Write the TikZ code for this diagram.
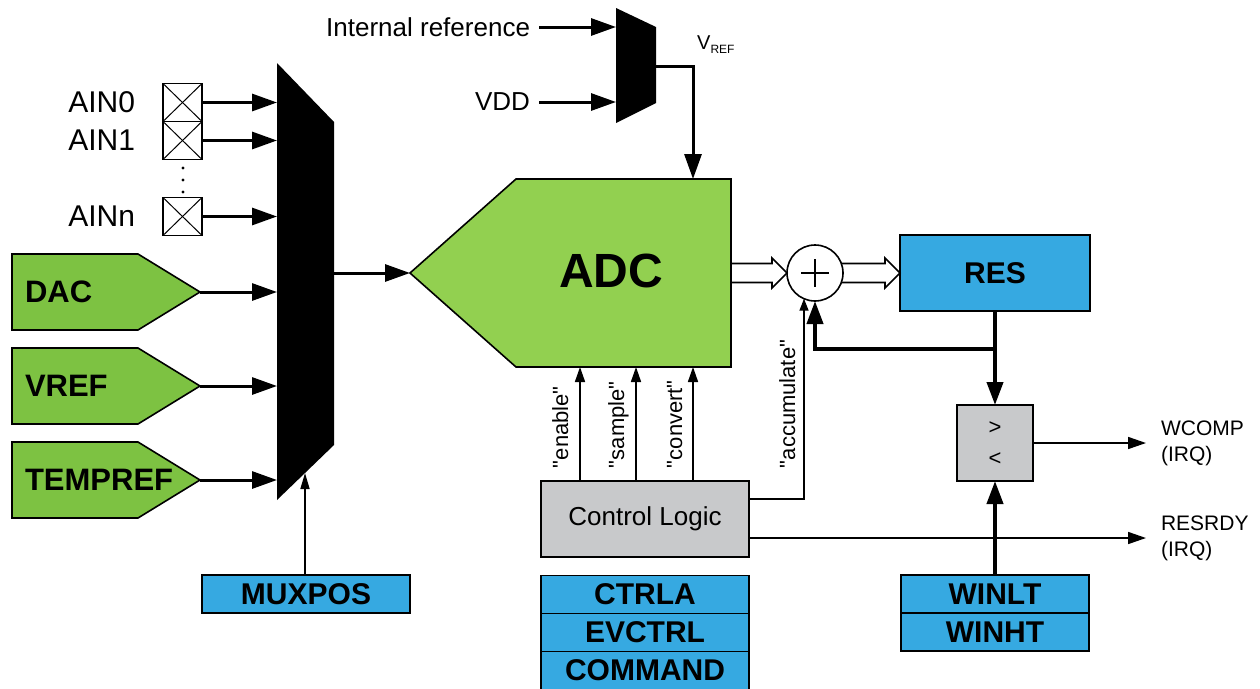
\documentclass[tikz,border=0pt]{standalone}
\usepackage{fontspec}
\setmainfont{Liberation Sans}
\newfontfamily\plainsans{Liberation Sans}
\usetikzlibrary{arrows.meta,calc}
\definecolor{adcgreen}{HTML}{92D050}
\definecolor{srcgreen}{HTML}{7DC242}
\definecolor{regblue}{HTML}{36A9E1}
\definecolor{logicgray}{HTML}{C8C9CB}
\newcommand{\fsz}[1]{\fontsize{#1pt}{#1pt}\selectfont}
\begin{document}
\begin{tikzpicture}[x=1pt,y=-1pt,
  outline/.style={draw=black, line width=1.6pt, line join=miter},
  lbl/.style={inner sep=0pt, outer sep=0pt, font=\fsz{26}},
  ainlbl/.style={inner sep=0pt, outer sep=0pt, font=\fsz{30}},
  sig/.style={inner sep=0pt, outer sep=0pt, font=\plainsans\fsz{22}},
  irq/.style={inner sep=0pt, outer sep=0pt, font=\fsz{21}, align=left},
  srctext/.style={inner sep=0pt, outer sep=0pt, font=\bfseries\fsz{31}},
  reg/.style={draw=black, line width=1.6pt, fill=regblue, inner sep=0pt, outer sep=0pt, font=\bfseries\fsz{30}},
  logic/.style={draw=black, line width=1.6pt, fill=logicgray, inner sep=0pt, outer sep=0pt},
  pinbox/.style={draw=black, line width=1.3pt, fill=white, minimum width=39pt, minimum height=38pt, inner sep=0pt, outer sep=0pt,
    path picture={\draw[line width=1pt] (path picture bounding box.north west) -- (path picture bounding box.south east)
      (path picture bounding box.south west) -- (path picture bounding box.north east);}},
  thinarrow/.style={line width=1.6pt, -{Triangle[length=15pt,width=10pt]}},
  irqarrow/.style={line width=1.6pt, -{Triangle[length=18pt,width=12pt]}},
  accarrow/.style={line width=1.6pt, -{Triangle[length=12pt,width=9pt]}},
  medarrow/.style={line width=3pt, line join=miter, -{Triangle[length=25pt,width=17pt]}},
  thickarrow/.style={line width=4pt, line join=miter, -{Triangle[length=23pt,width=16pt]}},
  hollow/.style={draw=black, line width=1.6pt, line join=miter}
]
\useasboundingbox (0,0) rectangle (1260,688);

% ---------- reference multiplexer ----------
\fill (616,8) -- (656,27) -- (656,103) -- (616,123) -- cycle;
\coordinate (refmuxL) at (616,0);
\coordinate (refmuxout) at (656,66);
\node[lbl, anchor=east] (intref) at (530,27) {Internal reference};
\node[lbl, anchor=east] (vdd) at (530,102) {VDD};
\draw[medarrow] ($(intref.east)+(9,0)$) -- (intref -| refmuxL);
\draw[medarrow] ($(vdd.east)+(9,0)$) -- (vdd -| refmuxL);
\node[inner sep=0pt, anchor=west, font=\fsz{20}] (vreflbl) at (697,45) {V\raisebox{-4pt}{\fsz{12}REF}};

% ---------- ADC ----------
\draw[outline, fill=adcgreen] (516,179) -- (731,179) -- (731,367) -- (516,367) -- (410,273) -- cycle;
\node[inner sep=0pt, font=\bfseries\fsz{48}] (adc) at (611,271) {ADC};
\coordinate (adcin) at (410,273);
\coordinate (adcout) at (731,273);
\coordinate (adcvref) at (693,179);
\coordinate (en) at (580,367);
\coordinate (sa) at (636,367);
\coordinate (co) at (693,367);
\draw[medarrow] (refmuxout) -| (adcvref);

% ---------- input multiplexer ----------
\fill (277,63) -- (334,122) -- (334,445) -- (277,500) -- cycle;
\coordinate (muxL) at (277,0);
\coordinate (muxout) at (334,273);
\coordinate (muxsel) at (305,473);
\draw[medarrow] (muxout) -- (adcin);

% analog pins
\node[pinbox] (p0) at (182.5,102.5) {};
\node[pinbox] (p1) at (182.5,140.5) {};
\node[pinbox] (pn) at (182.5,216.5) {};
\node[ainlbl, anchor=east] (ain0) at (135,102.5) {AIN0};
\node[ainlbl, anchor=east] (ain1) at (135,140.5) {AIN1};
\node[ainlbl, anchor=east] (ainn) at (135,216.5) {AINn};
\fill (183,168) circle (1.6) (183,180) circle (1.6) (183,192) circle (1.6);
\draw[medarrow] (p0.east) -- (p0.east -| muxL);
\draw[medarrow] (p1.east) -- (p1.east -| muxL);
\draw[medarrow] (pn.east) -- (pn.east -| muxL);

% internal sources
\draw[outline, fill=srcgreen] (12,254) -- (138,254) -- (200,292) -- (138,330) -- (12,330) -- cycle;
\draw[outline, fill=srcgreen] (12,348) -- (138,348) -- (200,386) -- (138,424) -- (12,424) -- cycle;
\draw[outline, fill=srcgreen] (12,442) -- (138,442) -- (200,480) -- (138,518) -- (12,518) -- cycle;
\node[srctext, anchor=west] (dac) at (25,292) {DAC};
\node[srctext, anchor=west] (vref) at (25,386) {VREF};
\node[srctext, anchor=west] (tempref) at (25,480) {TEMPREF};
\coordinate (dactip) at (200,292);
\coordinate (vreftip) at (200,386);
\coordinate (temptip) at (200,480);
\draw[medarrow] (dactip) -- (dactip -| muxL);
\draw[medarrow] (vreftip) -- (vreftip -| muxL);
\draw[medarrow] (temptip) -- (temptip -| muxL);

% MUXPOS
\node[reg, minimum width=208pt, minimum height=38pt] (muxpos) at (306,594) {MUXPOS};
\draw[line width=1.6pt, -{Triangle[length=16pt,width=9pt]}] (muxpos.north -| muxsel) -- (muxsel);

% ---------- control logic ----------
\node[logic, minimum width=208pt, minimum height=76pt, font=\fsz{26}] (ctrl) at (645,519) {Control Logic};
\draw[thinarrow] (ctrl.north -| en) -- (en);
\draw[thinarrow] (ctrl.north -| sa) -- (sa);
\draw[thinarrow] (ctrl.north -| co) -- (co);
\node[sig, rotate=90, anchor=base west] (enlbl) at (568,468) {"enable"};
\node[sig, rotate=90, anchor=base west] (salbl) at (624,468) {"sample"};
\node[sig, rotate=90, anchor=base west] (colbl) at (682,468) {"convert"};

\node[reg, minimum width=208pt, minimum height=38pt] (ctrla) at (645,594.5) {CTRLA};
\node[reg, minimum width=208pt, minimum height=38pt] (evctrl) at (645,632.5) {EVCTRL};
\node[reg, minimum width=208pt, minimum height=38pt] (command) at (645,670.5) {COMMAND};

% ---------- accumulator ----------
\node[circle, draw=black, line width=1.6pt, fill=white, minimum size=56pt, inner sep=0pt, outer sep=0pt] (sum) at (815,273) {};
\draw[line width=1.2pt] ($(sum.center)+(-14,0)$) -- ($(sum.center)+(14,0)$)
  ($(sum.center)+(0,-14)$) -- ($(sum.center)+(0,14)$);
\draw[hollow] ($(adcout)+(0,-9.5)$) -- ($(sum.west)+(-15,-9.5)$) -- ($(sum.west)+(-15,-15)$) -- (sum.west)
  -- ($(sum.west)+(-15,15)$) -- ($(sum.west)+(-15,9.5)$) -- ($(adcout)+(0,9.5)$);

\node[reg, minimum width=190pt, minimum height=76pt] (res) at (995,273) {RES};
\draw[hollow] ($(sum.center)+(26.3,-9.5)$) -- ($(res.west)+(-15,-9.5)$) -- ($(res.west)+(-15,-15)$) -- (res.west)
  -- ($(res.west)+(-15,15)$) -- ($(res.west)+(-15,9.5)$) -- ($(sum.center)+(26.3,9.5)$);

\coordinate (accrow) at (0,499);
\coordinate (accin) at (804,298.7);
\draw[accarrow] (ctrl.east |- accrow) -| (accin);
\node[sig, rotate=90, anchor=base west] (acclbl) at (795,468) {"accumulate"};

% ---------- window comparator ----------
\node[logic, minimum width=76pt, minimum height=76pt] (cmp) at (995,443) {};
\node[inner sep=0pt, font=\fsz{22}] (gt) at (995,428) {>};
\node[inner sep=0pt, font=\fsz{22}] (lt) at (995,459) {<};
\coordinate (fbrow) at (0,349);
\draw[thickarrow] (res.south) -- (cmp.north);
\draw[thickarrow] (res.south |- fbrow) -| (sum.south);

\node[reg, minimum width=188pt, minimum height=38pt] (winlt) at (995,594) {WINLT};
\node[reg, minimum width=188pt, minimum height=38pt] (winht) at (995,632) {WINHT};
\draw[thickarrow] (winlt.north) -- (cmp.south);

\node[irq, anchor=west] (wcomp) at (1161,443.5) {WCOMP\\[5pt](IRQ)};
\node[irq, anchor=west] (resrdy) at (1161,538.5) {RESRDY\\[5pt](IRQ)};
\draw[irqarrow] (cmp.east) -- ($(cmp.east -| wcomp.west)+(-15,0)$);
\coordinate (rdyrow) at (0,538);
\draw[irqarrow] (ctrl.east |- rdyrow) -- ($(rdyrow -| wcomp.west)+(-15,0)$);
\end{tikzpicture}
\end{document}
